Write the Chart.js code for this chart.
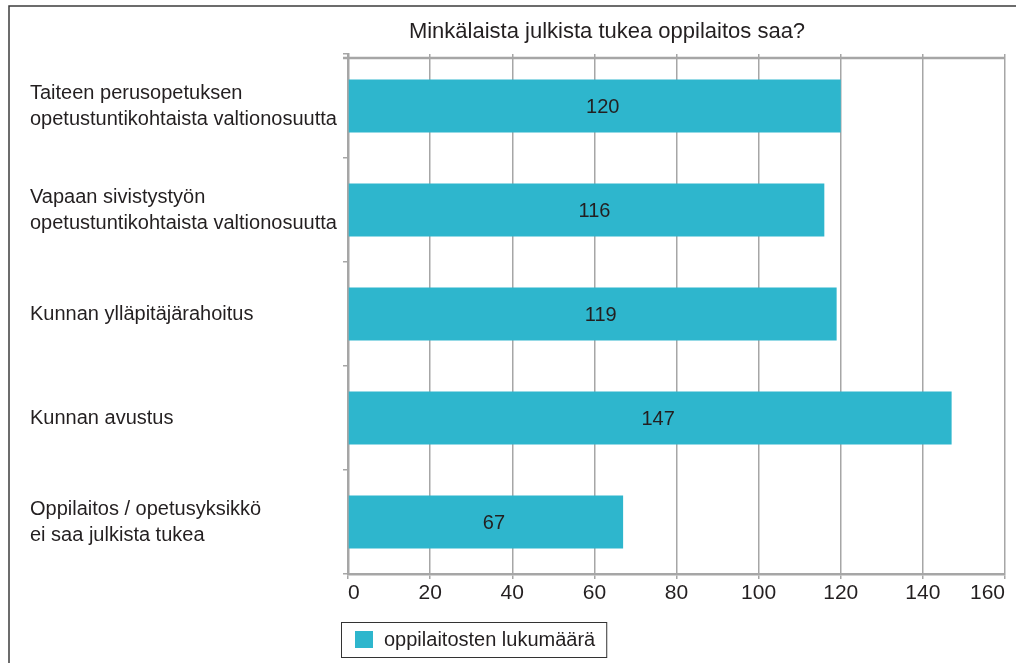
<!DOCTYPE html>
<html>
<head>
<meta charset="utf-8">
<script src="https://cdn.jsdelivr.net/npm/chart.js@4.4.1/dist/chart.umd.min.js"></script>
<style>
    html, body { margin: 0; padding: 0; background: #fff; }
    #wrap { width: 1016px; height: 663px; position: relative; }
</style>
</head>
<body>
<div id="wrap"><canvas id="tuki"></canvas></div>
<script>
    "use strict";

    // Data
    const title = 'Minkälaista julkista tukea oppilaitos saa?';
    const categories = [
        ['Taiteen perusopetuksen', 'opetustuntikohtaista valtionosuutta'],
        ['Vapaan sivistystyön', 'opetustuntikohtaista valtionosuutta'],
        'Kunnan ylläpitäjärahoitus',
        'Kunnan avustus',
        ['Oppilaitos / opetusyksikkö', 'ei saa julkista tukea']
    ];
    const seriesLabel = 'oppilaitosten lukumäärä';
    const values = [120, 116, 119, 147, 67];
    const xTicks = [0, 20, 40, 60, 80, 100, 120, 140, 160];

    const FONT = '"Liberation Sans", Arial, sans-serif';
    const TEXT = '#231f20';
    const GRID = '#a6a6a6';
    const BAR = '#2eb6cd';

    // Frame, title, top line, bar values and legend
    const decor = {
        id: 'decor',
        afterDraw(chart) {
            const ctx = chart.ctx;
            const area = chart.chartArea;
            ctx.save();

            // outer frame (left + top)
            ctx.strokeStyle = '#3c3c3c';
            ctx.lineWidth = 1.5;
            ctx.beginPath();
            ctx.moveTo(9, 663);
            ctx.lineTo(9, 6);
            ctx.lineTo(1016, 6);
            ctx.stroke();

            // title
            ctx.fillStyle = TEXT;
            ctx.font = '22px ' + FONT;
            ctx.textAlign = 'center';
            ctx.textBaseline = 'middle';
            ctx.fillText(title, 607, 32);

            // top line of plot
            ctx.strokeStyle = GRID;
            ctx.lineWidth = 2.5;
            ctx.beginPath();
            ctx.moveTo(area.left - 5, area.top + 4);
            ctx.lineTo(area.right, area.top + 4);
            ctx.stroke();

            // values inside bars
            ctx.font = '20px ' + FONT;
            ctx.fillStyle = TEXT;
            const meta = chart.getDatasetMeta(0);
            meta.data.forEach((bar, i) => {
                ctx.fillText(String(values[i]), (bar.base + bar.x) / 2 + 8, bar.y + 1);
            });

            // legend
            const lx = 341, ly = 622;
            ctx.font = '20px ' + FONT;
            const tw = ctx.measureText(seriesLabel).width;
            ctx.strokeStyle = '#333';
            ctx.lineWidth = 1;
            ctx.strokeRect(lx + 0.5, ly + 0.5, tw + 54, 35);
            ctx.fillStyle = BAR;
            ctx.fillRect(lx + 14, ly + 9, 18, 17);
            ctx.fillStyle = TEXT;
            ctx.textAlign = 'left';
            ctx.fillText(seriesLabel, lx + 43, ly + 18);

            ctx.restore();
        }
    };

    const ctx = document.getElementById('tuki').getContext('2d');
    const tukiChart = new Chart(ctx, {
        type: 'bar',
        data: {
            labels: categories,
            datasets: [{
                label: seriesLabel,
                data: values,
                backgroundColor: BAR,
                borderWidth: 0,
                categoryPercentage: 1,
                barPercentage: 0.51
            }]
        },
        options: {
            indexAxis: 'y',
            responsive: true,
            maintainAspectRatio: false,
            animation: false,
            layout: {
                padding: { top: 54, left: 30, right: 11, bottom: 49 }
            },
            plugins: {
                legend: { display: false },
                title: { display: false },
                tooltip: { enabled: false }
            },
            scales: {
                x: {
                    min: 0,
                    max: 160,
                    afterBuildTicks: function (scale) {
                        scale.ticks = xTicks.map(v => ({ value: v }));
                    },
                    afterFit: function (scale) {
                        scale.height = 40;
                        scale.paddingLeft = 0;
                        scale.paddingRight = 0;
                    },
                    grid: {
                        color: GRID,
                        lineWidth: 1.5,
                        tickLength: 5
                    },
                    border: { color: GRID, width: 2.5 },
                    ticks: {
                        color: TEXT,
                        font: { family: FONT, size: 21 },
                        padding: 2,
                        align: 'inner',
                        maxRotation: 0
                    }
                },
                y: {
                    afterFit: function (scale) {
                        scale.width = 318;
                    },
                    grid: {
                        drawOnChartArea: false,
                        color: GRID,
                        lineWidth: 1.5,
                        tickLength: 5,
                        offset: true
                    },
                    border: { color: GRID, width: 2.5 },
                    ticks: {
                        color: TEXT,
                        crossAlign: 'far',
                        font: { family: FONT, size: 20, lineHeight: 1.3 }
                    }
                }
            }
        },
        plugins: [decor]
    });
</script>
</body>
</html>
